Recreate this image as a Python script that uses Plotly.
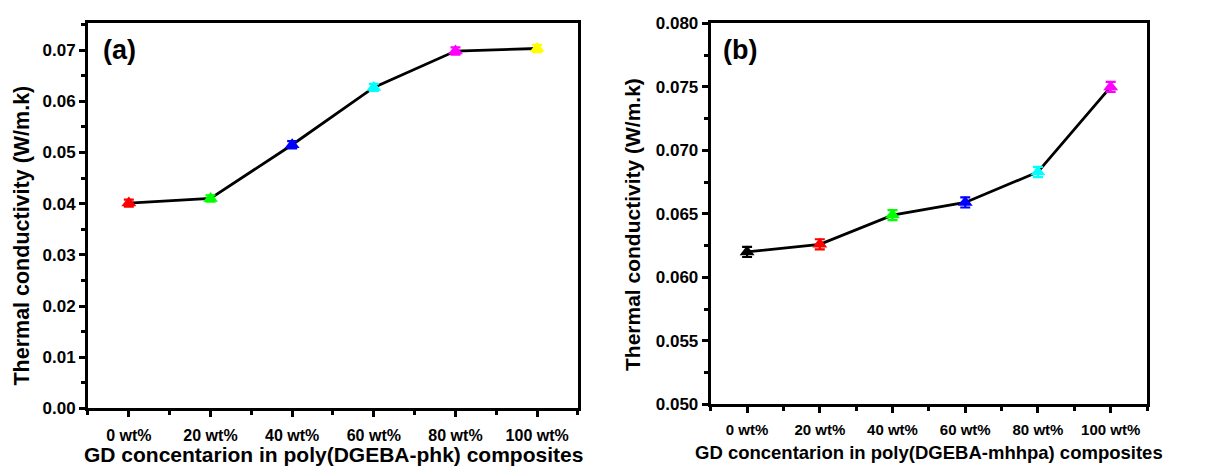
import plotly.graph_objects as go

categories = ["0 wt%", "20 wt%", "40 wt%", "60 wt%", "80 wt%", "100 wt%"]

# Panel (a): poly(DGEBA-phk)
values_a = [0.0401, 0.0410, 0.0515, 0.0627, 0.0698, 0.0703]
errors_a = [0.0007, 0.0006, 0.0007, 0.0007, 0.0007, 0.0007]
colors_a = ["#ff0000", "#00ff00", "#0000ff", "#00ffff", "#ff00ff", "#ffff00"]

# Panel (b): poly(DGEBA-mhhpa)
values_b = [0.0620, 0.0626, 0.0649, 0.0659, 0.0683, 0.0750]
errors_b = [0.0004, 0.0004, 0.0004, 0.0004, 0.0004, 0.0004]
colors_b = ["#000000", "#ff0000", "#00ff00", "#0000ff", "#00ffff", "#ff00ff"]

FONT = "Liberation Sans, Arial, sans-serif"
xs = list(range(len(categories)))

fig = go.Figure()

def add_panel(vals, errs, cols, xa, ya):
    fig.add_trace(go.Scatter(x=xs, y=vals, mode="lines",
                             line=dict(color="black", width=2.8),
                             xaxis=xa, yaxis=ya, showlegend=False, hoverinfo="skip"))
    for x, v, e, c in zip(xs, vals, errs, cols):
        fig.add_trace(go.Scatter(x=[x], y=[v], mode="markers",
                                 marker=dict(symbol="triangle-up", size=13, color=c,
                                             line=dict(width=0)),
                                 error_y=dict(type="data", array=[e], color=c,
                                              thickness=2.2, width=5, visible=True),
                                 xaxis=xa, yaxis=ya, showlegend=False))

add_panel(values_a, errors_a, colors_a, "x", "y")
add_panel(values_b, errors_b, colors_b, "x2", "y2")

minor_x = [i - 0.5 for i in range(len(categories) + 1)]

def xaxis_style(domain, anchor, size):
    return dict(domain=domain, anchor=anchor, range=[-0.5, len(categories) - 0.5],
                tickmode="array", tickvals=xs, ticktext=categories,
                showline=True, linecolor="black", linewidth=3, mirror=True,
                ticks="outside", ticklen=6, tickwidth=2.5, tickcolor="black",
                ticklabelstandoff=4,
                minor=dict(tickvals=minor_x, ticks="outside", ticklen=4, tickwidth=2.5,
                           tickcolor="black"),
                tickfont=dict(family=FONT, size=size, color="black", weight="bold"),
                showgrid=False, zeroline=False, fixedrange=True)

def yaxis_style(domain, anchor, rng, dtick, fmt, size):
    return dict(domain=domain, anchor=anchor, range=rng, dtick=dtick, tick0=0,
                tickformat=fmt,
                showline=True, linecolor="black", linewidth=3, mirror=True,
                ticks="outside", ticklen=6, tickwidth=2.5, tickcolor="black",
                minor=dict(dtick=dtick / 2, ticks="outside", ticklen=4, tickwidth=2.5,
                           tickcolor="black"),
                tickfont=dict(family=FONT, size=size, color="black", weight="bold"),
                showgrid=False, zeroline=False, fixedrange=True)

fig.update_layout(
    width=1229, height=476,
    margin=dict(l=0, r=0, t=0, b=0),
    paper_bgcolor="white", plot_bgcolor="white",
    xaxis=xaxis_style([0.0716, 0.4703], "y", 16),
    yaxis=yaxis_style([0.126, 0.9685], "x", [0, 0.0752], 0.01, ".2f", 17),
    xaxis2=xaxis_style([0.5783, 0.9333], "y2", 15),
    yaxis2=yaxis_style([0.135, 0.9685], "x2", [0.05, 0.08], 0.005, ".3f", 17),
)

def ann(text, x, y, size, angle=0, xanchor="center", yanchor="middle"):
    fig.add_annotation(text=text, x=x, y=y, xref="paper", yref="paper",
                       showarrow=False, textangle=angle, xanchor=xanchor, yanchor=yanchor,
                       font=dict(family=FONT, size=size, color="black", weight="bold"))

ann("Thermal conductivity (W/m.k)", 22 / 1229, 1 - 236 / 476, 21.5, angle=-90)
ann("Thermal conductivity (W/m.k)", 632 / 1229, 1 - 225 / 476, 21, angle=-90)
ann("GD concentarion in poly(DGEBA-phk) composites", 333 / 1229, 1 - 464 / 476, 21)
ann("GD concentarion in poly(DGEBA-mhhpa) composites", 929 / 1229, 1 - 462 / 476, 18.5)
ann("(a)", 101 / 1229, 1 - 43 / 476, 27, xanchor="left")
ann("(b)", 721 / 1229, 1 - 43 / 476, 27, xanchor="left")

fig.write_html("out.html")
